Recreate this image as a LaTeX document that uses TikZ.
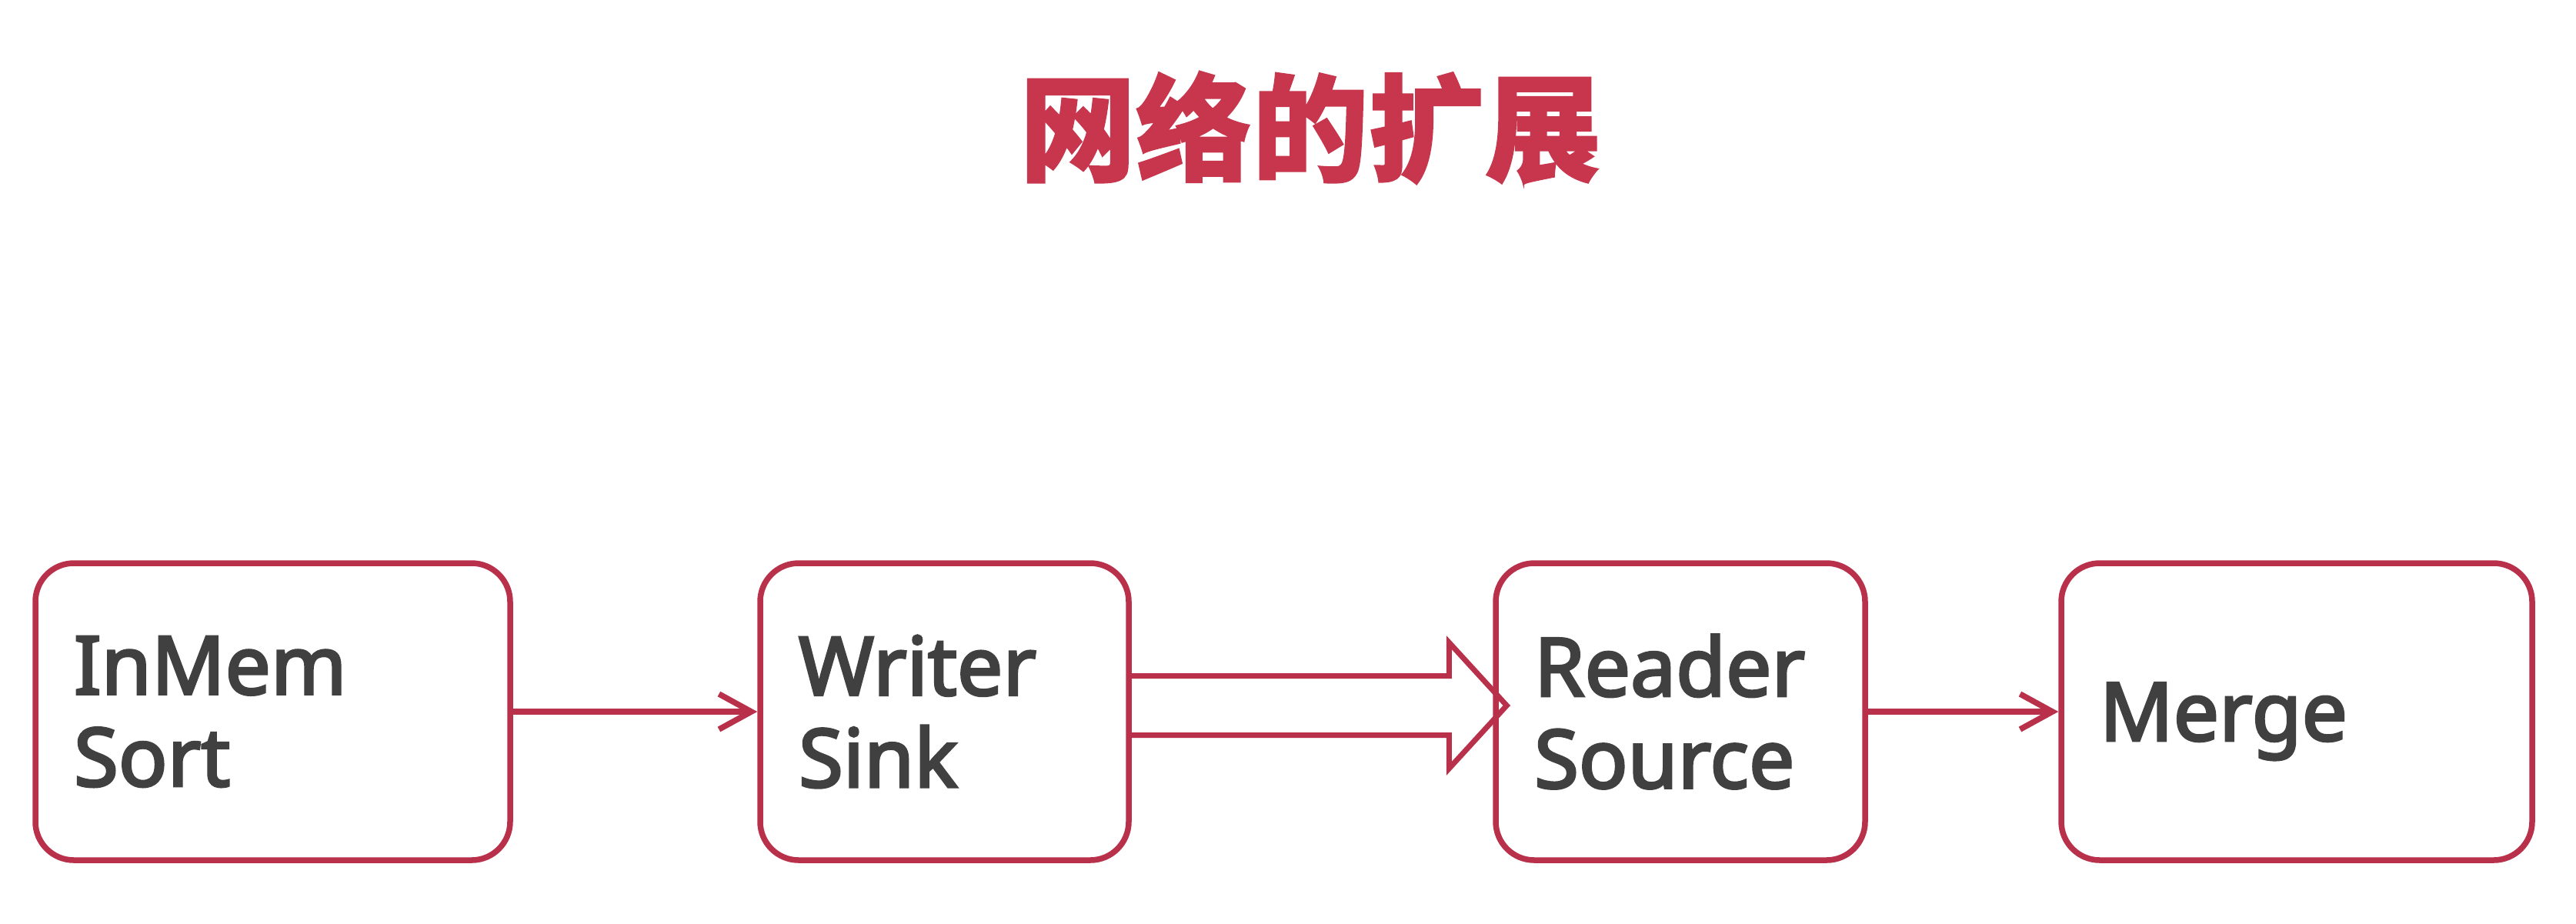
\documentclass[tikz,border=0pt]{standalone}
\usepackage{fontspec}
\setmainfont{Noto Sans}
\newfontfamily\labelfont{Noto Sans}[FakeBold=3]
\newfontfamily\cjk{Noto Sans CJK SC}[BoldFeatures={FakeBold=1.2}]
\usetikzlibrary{arrows.meta,shadows}
\definecolor{edgered}{HTML}{B8304A}
\definecolor{titlered}{HTML}{C8364E}
\definecolor{textgray}{HTML}{404040}
\tikzset{
  stage/.style={draw=edgered, line width=0.075cm, rounded corners=0.5cm, fill=white,
    minimum height=3.86cm, inner xsep=0.5cm, inner ysep=0pt, align=left,
    text=textgray,
    font=\labelfont\fontsize{30}{34}\selectfont,
    drop shadow={shadow xshift=0.015cm, shadow yshift=-0.035cm, opacity=0.12, fill=black}},
  flow/.style={draw=edgered, line width=0.075cm, -{Straight Barb[length=0.42cm, width=0.46cm, line width=0.075cm]}},
  hollow/.style={draw=edgered, line width=0.07cm, line join=miter},
  heading/.style={text=titlered, font=\cjk\bfseries\fontsize{43}{50}\selectfont}
}
\begin{document}
\begin{tikzpicture}
\useasboundingbox (0,0) rectangle (33.48,-12);
\node[heading] (title) at (17.03,-1.66) {网络的扩展};
\node[stage, text width=5.17cm] (b1) at (3.545,-9.25) {InMem\\Sort};
\node[stage, text width=3.79cm] (b2) at (12.275,-9.25) {Writer\\Sink};
\node[stage, text width=3.80cm] (b3) at (21.84,-9.25) {Reader\\Source};
\node[stage, text width=5.12cm, text depth=0pt] (b4) at (29.85,-9.25) {Merge};
\draw[flow] (b1.east) -- (b2.west);
\draw[flow] (b3.east) -- (b4.west);
\coordinate (s1) at ([yshift=0.465cm]b2.east);
\coordinate (s2) at ([yshift=-0.305cm]b2.east);
\coordinate (tip) at ([xshift=0.18cm, yshift=0.08cm]b3.west);
\coordinate (h1) at ([xshift=-0.57cm, yshift=0.465cm]b3.west);
\coordinate (h2) at ([xshift=-0.57cm, yshift=-0.305cm]b3.west);
\coordinate (k1) at ([xshift=-0.57cm, yshift=0.90cm]b3.west);
\coordinate (k2) at ([xshift=-0.57cm, yshift=-0.74cm]b3.west);
\draw[hollow] (s1) -- (h1) -- (k1) -- (tip) -- (k2) -- (h2) -- (s2);
\end{tikzpicture}
\end{document}
